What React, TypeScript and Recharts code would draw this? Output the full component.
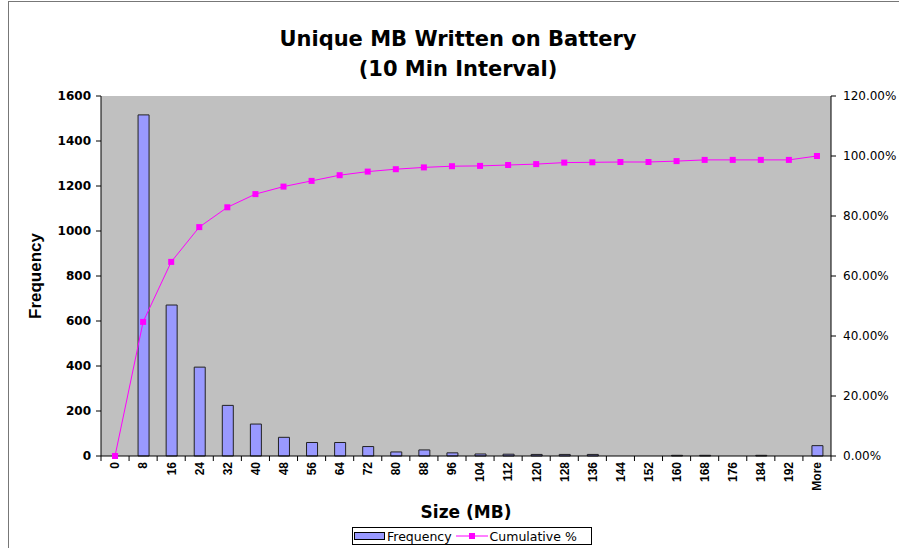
import { Bar, CartesianGrid, ComposedChart, Legend, Line, XAxis, YAxis } from "recharts";

const sizes = ["0", "8", "16", "24", "32", "40", "48", "56", "64", "72", "80", "88", "96", "104", "112", "120", "128", "136", "144", "152", "160", "168", "176", "184", "192", "More"];
const frequency = [0, 1516, 671, 395, 225, 142, 83, 60, 60, 42, 18, 27, 14, 9, 8, 7, 7, 7, 0, 0, 3, 3, 0, 3, 0, 46];
const cumulative = [0, 0.447, 0.647, 0.763, 0.829, 0.873, 0.898, 0.917, 0.936, 0.948, 0.956, 0.962, 0.966, 0.967, 0.97, 0.973, 0.978, 0.979, 0.98, 0.98, 0.983, 0.987, 0.987, 0.987, 0.987, 1.0];
const freqTicks = [0, 200, 400, 600, 800, 1000, 1200, 1400, 1600];
const pctTicks = [0, 0.2, 0.4, 0.6, 0.8, 1.0, 1.2];

const data = sizes.map((size, i) => ({ size, freq: frequency[i], cum: cumulative[i] }));

const WIDE = "'DejaVu Sans', sans-serif";
const ARIAL = "'Liberation Sans', Arial, sans-serif";
const MAGENTA = "#FF00FF";
const BAR = "#9999FF";

// 类目刻度：标签竖排，刻度线画在类目之间
function SizeTick(props: any) {
  const { x, y, payload, index, visibleTicksCount } = props;
  const half = payload?.offset || 14;
  const axisY = y - 6;
  return (
    <g>
      <line x1={x - half} y1={axisY} x2={x - half} y2={axisY + 5} stroke="#000" />
      {index === visibleTicksCount - 1 && (
        <line x1={x + half} y1={axisY} x2={x + half} y2={axisY + 5} stroke="#000" />
      )}
      <text
        x={x}
        y={y}
        dy="0.36em"
        transform={`rotate(-90, ${x}, ${y})`}
        textAnchor="end"
        fontFamily={ARIAL}
        fontWeight="bold"
        fontSize={12}
        fill="#000"
      >
        {payload.value}
      </text>
    </g>
  );
}

function SquareDot(props: any) {
  const { cx, cy } = props;
  if (cx == null || cy == null) return null;
  return <rect x={cx - 3} y={cy - 3} width={6} height={6} fill={MAGENTA} />;
}

function LegendBox() {
  return (
    <div style={{ height: 21, paddingTop: 0, boxSizing: "border-box" }}>
      <div
        style={{
          display: "flex",
          alignItems: "center",
          height: 18,
          border: "1px solid #000",
          background: "#fff",
          fontFamily: WIDE,
          fontSize: 12.5,
          color: "#000",
          paddingLeft: 1,
          boxSizing: "border-box",
          width: 240,
        }}
      >
        <span style={{ display: "inline-block", width: 31, height: 8, background: BAR, border: "1px solid #000", boxSizing: "border-box", marginRight: 2 }} />
        <span>Frequency</span>
        <svg width={34} height={10} style={{ marginLeft: 3 }}>
          <line x1={1} y1={5} x2={33} y2={5} stroke={MAGENTA} />
          <rect x={14} y={2} width={6} height={6} fill={MAGENTA} />
        </svg>
        <span style={{ marginLeft: 1 }}>Cumulative %</span>
      </div>
    </div>
  );
}

export default function App() {
  return (
    <div style={{ position: "absolute", left: 0, top: 0, width: 899, height: 548, background: "#fff", overflow: "hidden" }}>
      <div style={{ position: "absolute", left: 8, top: 1, width: 1000, height: 1000, borderLeft: "1px solid #777", borderTop: "1px solid #777" }} />
      <div
        style={{
          position: "absolute",
          left: 0,
          top: 24,
          width: 916,
          textAlign: "center",
          fontFamily: WIDE,
          fontWeight: "bold",
          fontSize: 21,
          lineHeight: "30px",
          color: "#000",
        }}
      >
        Unique MB Written on Battery
        <br />
        (10 Min Interval)
      </div>
      <ComposedChart width={899} height={548} data={data} margin={{ top: 96, right: 0, bottom: 0, left: 0 }}>
        <CartesianGrid fill="#C0C0C0" horizontal={false} vertical={false} />
        <XAxis
          dataKey="size"
          interval={0}
          height={71}
          tickSize={0}
          tickMargin={6}
          tickLine={false}
          axisLine={{ stroke: "#000" }}
          tick={<SizeTick />}
          label={{
            content: ({ viewBox }: any) => (
              <text x={viewBox.x + viewBox.width / 2} y={viewBox.y + 62} textAnchor="middle" fontFamily={WIDE} fontWeight="bold" fontSize={17} fill="#000">
                Size (MB)
              </text>
            ),
          }}
        />
        <YAxis
          yAxisId="left"
          width={101}
          domain={[0, 1600]}
          ticks={freqTicks}
          interval={0}
          tickSize={5}
          tickMargin={5}
          axisLine={{ stroke: "#000" }}
          tickLine={{ stroke: "#000" }}
          tick={{ fill: "#000", fontFamily: WIDE, fontWeight: "bold", fontSize: 12 }}
          label={{
            content: ({ viewBox }: any) => {
              const cy = viewBox.y + viewBox.height / 2;
              return (
                <text x={41} y={cy} transform={`rotate(-90, 41, ${cy})`} textAnchor="middle" fontFamily={ARIAL} fontWeight="bold" fontSize={17} fill="#000">
                  Frequency
                </text>
              );
            },
          }}
        />
        <YAxis
          yAxisId="right"
          orientation="right"
          width={68}
          domain={[0, 1.2]}
          ticks={pctTicks}
          interval={0}
          tickSize={5}
          tickMargin={7}
          axisLine={{ stroke: "#000" }}
          tickLine={{ stroke: "#000" }}
          tickFormatter={(v) => `${(Number(v) * 100).toFixed(2)}%`}
          tick={{ fill: "#000", fontFamily: WIDE, fontSize: 12 }}
        />
        <Bar yAxisId="left" dataKey="freq" name="Frequency" barSize={11} fill={BAR} stroke="#222" strokeWidth={1} isAnimationActive={false} />
        <Line
          yAxisId="right"
          dataKey="cum"
          name="Cumulative %"
          type="linear"
          stroke={MAGENTA}
          strokeWidth={1}
          dot={<SquareDot />}
          activeDot={false}
          isAnimationActive={false}
        />
        <Legend verticalAlign="bottom" height={21} wrapperStyle={{ left: 352, bottom: 0, width: 240, height: 21 }} content={() => <LegendBox />} />
      </ComposedChart>
    </div>
  );
}
